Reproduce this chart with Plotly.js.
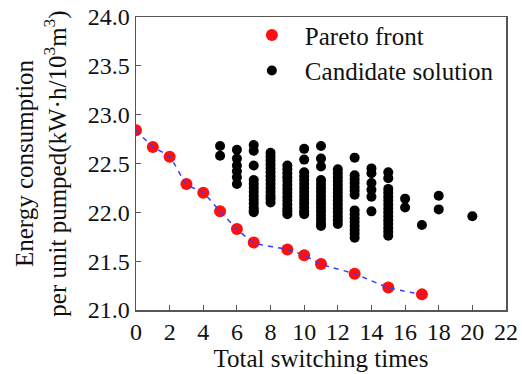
<!DOCTYPE html>
<html>
<head>
<meta charset="utf-8">
<script src="https://cdn.plot.ly/plotly-3.0.1.min.js"></script>
<style>html,body{margin:0;padding:0;background:#fff;}#chart{width:522px;height:374px;}</style>
</head>
<body>
<div id="chart"></div>
<script>
// Pareto front
const paretoX = [0, 1, 2, 3, 4, 5, 6, 7, 9, 10, 11, 13, 15, 17];
const paretoY = [22.84, 22.67, 22.57, 22.29, 22.20, 22.01, 21.83, 21.69, 21.62, 21.56, 21.47, 21.37, 21.23, 21.16];

// Candidate solutions, one list of values per switching count
const candX = [5, 6, 7, 8, 9, 10, 11, 12, 13, 14, 15, 16, 17, 18, 20];
const candCols = [
  [22.68, 22.58],
  [22.64, 22.55, 22.48, 22.42, 22.36, 22.29],
  [22.69, 22.63, 22.48, 22.33, 22.29, 22.25, 22.21, 22.17, 22.13, 22.09, 22.05, 22.02, 22.00],
  [22.61, 22.57, 22.53, 22.49, 22.45, 22.41, 22.37, 22.33, 22.29, 22.25, 22.21, 22.17, 22.14, 22.10],
  [22.48, 22.44, 22.40, 22.36, 22.32, 22.28, 22.24, 22.20, 22.16, 22.12, 22.08, 22.04, 22.01, 21.98],
  [22.65, 22.54, 22.41, 22.37, 22.33, 22.29, 22.25, 22.21, 22.17, 22.13, 22.09, 22.05, 22.01, 21.98],
  [22.68, 22.55, 22.47, 22.33, 22.29, 22.25, 22.21, 22.17, 22.13, 22.09, 22.05, 22.01, 21.97, 21.93, 21.89, 21.86],
  [22.44, 22.40, 22.36, 22.32, 22.28, 22.24, 22.20, 22.16, 22.12, 22.08, 22.04, 22.00, 21.96, 21.92, 21.88],
  [22.56, 22.38, 22.34, 22.30, 22.26, 22.22, 22.18, 22.02, 21.98, 21.94, 21.90, 21.86, 21.82, 21.78, 21.74],
  [22.45, 22.40, 22.30, 22.23, 22.16, 22.01],
  [22.41, 22.35, 22.24, 22.20, 22.16, 22.12, 22.08, 22.04, 22.00, 21.96, 21.92, 21.88, 21.84, 21.80, 21.76],
  [22.14, 22.05],
  [21.87],
  [22.17, 22.03],
  [21.96]
];

const cx = [], cy = [];
candX.forEach((x, i) => candCols[i].forEach(v => { cx.push(x); cy.push(v); }));

const xTicks = [0, 2, 4, 6, 8, 10, 12, 14, 16, 18, 20, 22];
const yTicks = [21.0, 21.5, 22.0, 22.5, 23.0, 23.5, 24.0];

const fam = '"Liberation Serif", "Times New Roman", serif';
const tickFont = {family: fam, color: '#111', size: 24};
const titleFont = {family: fam, color: '#111', size: 25};

const data = [
  {x: paretoX, y: paretoY, mode: 'markers', type: 'scatter', name: 'Pareto front',
   marker: {color: '#ff1010', size: 12}},
  {x: cx, y: cy, mode: 'markers', type: 'scatter', name: 'Candidate solution',
   marker: {color: '#000', size: 10}},
  {x: paretoX, y: paretoY, mode: 'lines', type: 'scatter', showlegend: false, hoverinfo: 'skip',
   line: {color: '#3a3aff', width: 1.5, dash: '5px,5px', shape: 'spline', smoothing: 0.6}}
];

const axisCommon = {
  showgrid: false, zeroline: false, showline: true, mirror: true,
  linecolor: '#555', linewidth: 1.5, ticks: 'inside', ticklen: 5, tickwidth: 1, tickcolor: '#555',
  tickfont: tickFont
};

const layout = {
  width: 522, height: 374,
  margin: {l: 136, r: 16, t: 15, b: 64},
  paper_bgcolor: '#fff', plot_bgcolor: '#fff',
  font: titleFont,
  showlegend: true,
  legend: {x: 0.278, y: 1.016, xanchor: 'left', yanchor: 'top', bgcolor: 'rgba(0,0,0,0)',
           font: titleFont, tracegroupgap: 0, itemwidth: 56},
  xaxis: Object.assign({}, axisCommon, {
    range: [0, 22], tickvals: xTicks, ticktext: xTicks.map(String),
    title: {text: 'Total switching times', font: titleFont, standoff: 2}
  }),
  yaxis: Object.assign({}, axisCommon, {
    range: [21, 24], tickvals: yTicks, ticktext: yTicks.map(v => v.toFixed(1)),
    title: {text: 'Energy consumption<br>per unit pumped(kW·h/10<sup>3</sup>m<sup>3</sup>)', font: titleFont, standoff: 14}
  })
};

Plotly.newPlot('chart', data, layout, {displayModeBar: false, staticPlot: true});
</script>
</body>
</html>
